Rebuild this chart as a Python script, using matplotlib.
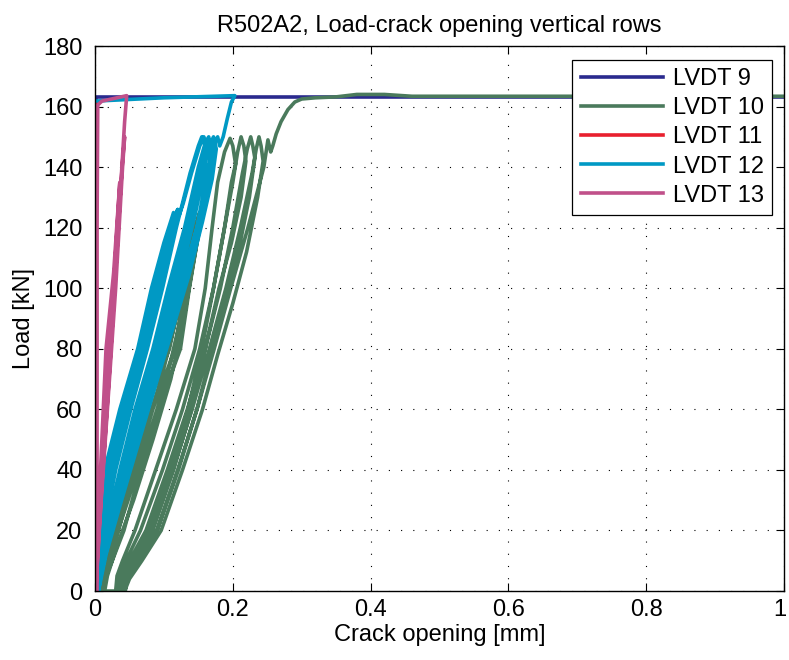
"""
R502A2 load vs crack opening, vertical rows of LVDTs.
"""
import matplotlib
matplotlib.use("Agg")
import matplotlib.pyplot as plt
import matplotlib.transforms as mtransforms

plt.rcParams['font.family'] = ['Liberation Sans', 'DejaVu Sans']

# LVDT 9: stays at zero opening, then flat at peak load
lvdt9_x = [0.0008, 0.0008, 1.000]
lvdt9_y = [0.0, 163.3, 163.3]

# LVDT 10: cycles, each written as loading branch + unloading branch
lvdt10_x = [
    0.000, 0.004, 0.010, 0.020, 0.038, 0.066, 0.100, 0.120, 0.137, 0.152,
    0.146, 0.130, 0.112, 0.088, 0.060, 0.034, 0.016, 0.006, 0.003,
    0.003, 0.008, 0.015, 0.028, 0.048, 0.074, 0.108, 0.126, 0.140, 0.154,
    0.148, 0.134, 0.118, 0.096, 0.068, 0.042, 0.022, 0.010, 0.006,
    0.006, 0.012, 0.020, 0.034, 0.058, 0.084, 0.116, 0.131, 0.144, 0.156,
    0.150, 0.138, 0.124, 0.104, 0.076, 0.048, 0.026, 0.014, 0.010,
    0.010, 0.016, 0.025, 0.042, 0.066, 0.092, 0.124, 0.137, 0.148, 0.157,
    0.152, 0.141, 0.129, 0.110, 0.084, 0.056, 0.032, 0.018, 0.014,
    0.030, 0.032, 0.040, 0.058, 0.088, 0.118, 0.145, 0.160, 0.170, 0.178, 0.188, 0.196, 0.200, 0.204,
    0.198, 0.188, 0.172, 0.155, 0.135, 0.108, 0.078, 0.052, 0.038, 0.033,
    0.034, 0.036, 0.045, 0.066, 0.098, 0.127, 0.152, 0.172, 0.188, 0.200, 0.207, 0.212, 0.216, 0.219,
    0.212, 0.198, 0.180, 0.160, 0.140, 0.114, 0.084, 0.058, 0.042, 0.037,
    0.038, 0.040, 0.050, 0.074, 0.105, 0.134, 0.160, 0.182, 0.200, 0.214, 0.221, 0.226, 0.229, 0.232,
    0.224, 0.208, 0.190, 0.168, 0.148, 0.120, 0.090, 0.063, 0.046, 0.040,
    0.041, 0.043, 0.054, 0.082, 0.113, 0.141, 0.166, 0.190, 0.211, 0.228, 0.234, 0.238, 0.241, 0.244,
    0.236, 0.220, 0.200, 0.178, 0.156, 0.127, 0.096, 0.068, 0.050, 0.043,
    0.044, 0.046, 0.058, 0.090, 0.121, 0.148, 0.173, 0.197, 0.222, 0.245, 0.251, 0.255, 0.258,
    0.263, 0.270, 0.280, 0.290, 0.300, 0.320, 0.350, 0.380, 0.420, 0.460, 1.000,
]
lvdt10_y = [
    0, 5, 10, 20, 40, 60, 80, 100, 115, 125,
    120, 105, 90, 70, 50, 30, 15, 5, 0,
    0, 5, 10, 20, 40, 60, 80, 100, 115, 126,
    120, 105, 90, 70, 50, 30, 15, 5, 0,
    0, 5, 10, 20, 40, 60, 80, 100, 115, 126,
    120, 106, 90, 70, 50, 30, 15, 5, 0,
    0, 5, 10, 20, 40, 60, 80, 100, 115, 125,
    120, 106, 90, 70, 50, 30, 15, 5, 0,
    0, 5, 10, 20, 40, 60, 80, 100, 120, 135, 145, 149.5, 147, 141,
    135, 120, 100, 80, 60, 40, 20, 10, 4, 0,
    0, 5, 10, 20, 40, 60, 80, 100, 120, 135, 145, 150, 147, 142,
    130, 115, 100, 80, 60, 40, 20, 10, 4, 0,
    0, 5, 10, 20, 40, 60, 80, 100, 120, 138, 146, 150, 147, 143,
    130, 112, 96, 78, 60, 40, 20, 10, 4, 0,
    0, 5, 10, 20, 40, 60, 80, 100, 120, 138, 146, 150, 147, 142,
    130, 112, 95, 78, 60, 40, 20, 10, 4, 0,
    0, 4, 10, 20, 40, 60, 80, 100, 120, 140, 149, 145, 147,
    151, 155, 159, 161.5, 162.5, 162.9, 163.2, 164.0, 164.0, 163.4, 163.4,
]

# LVDT 11: hidden behind LVDT 13 near zero
lvdt11_x = [0.001, 0.002, 0.002, 0.003]
lvdt11_y = [0.0, 80.0, 158.0, 161.0]

# LVDT 12
lvdt12_x = [
    0.000, 0.002, 0.006, 0.014, 0.036, 0.062, 0.082, 0.100, 0.114,
    0.110, 0.096, 0.078, 0.056, 0.034, 0.016, 0.006, 0.001,
    0.001, 0.003, 0.008, 0.019, 0.041, 0.067, 0.087, 0.104, 0.117,
    0.113, 0.099, 0.081, 0.059, 0.037, 0.019, 0.008, 0.001,
    0.001, 0.004, 0.010, 0.024, 0.046, 0.072, 0.092, 0.108, 0.120,
    0.116, 0.102, 0.084, 0.062, 0.040, 0.022, 0.010, 0.002,
    0.002, 0.005, 0.011, 0.027, 0.049, 0.073, 0.095, 0.112, 0.120, 0.122, 0.128, 0.140, 0.152, 0.158, 0.162,
    0.158, 0.145, 0.126, 0.104, 0.080, 0.054, 0.030, 0.012, 0.003,
    0.002, 0.006, 0.013, 0.030, 0.052, 0.076, 0.098, 0.118, 0.138, 0.150, 0.155, 0.160,
    0.156, 0.142, 0.122, 0.100, 0.076, 0.050, 0.026, 0.010, 0.003,
    0.003, 0.008, 0.017, 0.036, 0.058, 0.084, 0.106, 0.130, 0.150, 0.160, 0.165, 0.169,
    0.164, 0.150, 0.130, 0.106, 0.082, 0.056, 0.032, 0.014, 0.004,
    0.003, 0.009, 0.019, 0.039, 0.061, 0.087, 0.110, 0.134, 0.153, 0.163, 0.168, 0.173,
    0.167, 0.153, 0.133, 0.109, 0.085, 0.059, 0.034, 0.015, 0.004,
    0.004, 0.010, 0.020, 0.042, 0.064, 0.090, 0.114, 0.138, 0.156, 0.166, 0.172, 0.176,
    0.170, 0.156, 0.136, 0.112, 0.088, 0.062, 0.036, 0.016, 0.005,
    0.005, 0.012, 0.024, 0.050, 0.072, 0.098, 0.122, 0.148, 0.164, 0.170, 0.174, 0.178, 0.181,
    0.186, 0.192, 0.198, 0.203, 0.100, 0.000,
]
lvdt12_y = [
    0, 10, 20, 40, 60, 80, 100, 115, 125,
    118, 105, 90, 72, 55, 35, 18, 0,
    0, 10, 20, 40, 60, 80, 100, 115, 124,
    119, 106, 90, 72, 55, 35, 18, 0,
    0, 10, 20, 40, 60, 80, 100, 115, 126,
    120, 106, 90, 72, 55, 35, 18, 0,
    0, 10, 20, 40, 60, 80, 100, 116, 126, 124, 128, 138, 147, 150, 147,
    138, 124, 106, 88, 70, 50, 30, 14, 0,
    0, 10, 20, 40, 60, 80, 100, 120, 138, 147, 150, 147,
    138, 124, 106, 88, 70, 50, 30, 14, 0,
    0, 10, 20, 40, 60, 80, 100, 120, 140, 148, 150, 146,
    136, 122, 104, 86, 68, 48, 28, 12, 0,
    0, 10, 20, 40, 60, 80, 100, 120, 139, 147, 149, 146,
    136, 122, 104, 86, 68, 48, 28, 12, 0,
    0, 10, 20, 40, 60, 80, 100, 120, 138, 147, 150, 146,
    136, 122, 104, 86, 68, 48, 28, 12, 0,
    0, 10, 20, 40, 60, 80, 100, 120, 140, 146, 148, 150, 147,
    150, 156, 161.5, 163.6, 162.9, 161.8,
]

# LVDT 13
lvdt13_x = [
    0.000, 0.004, 0.010, 0.016, 0.021, 0.027, 0.032, 0.036,
    0.033, 0.027, 0.016, 0.011, 0.005, 0.001,
    0.001, 0.006, 0.012, 0.018, 0.024, 0.030, 0.035, 0.040, 0.043,
    0.040, 0.034, 0.027, 0.019, 0.011, 0.004, 0.001,
    0.001, 0.005, 0.010, 0.016, 0.022, 0.028, 0.034, 0.039, 0.043, 0.046,
    0.010, 0.004, 0.003, 0.003, 0.003,
]
lvdt13_y = [
    0, 20, 40, 60, 80, 100, 120, 135,
    125, 105, 80, 55, 25, 0,
    0, 20, 40, 60, 80, 100, 120, 140, 150,
    142, 122, 98, 72, 45, 18, 0,
    0, 15, 35, 55, 76, 98, 120, 140, 155, 163.6,
    161.8, 160.5, 120, 60, 0,
]

series_labels = ['LVDT 9', 'LVDT 10', 'LVDT 11', 'LVDT 12', 'LVDT 13']
series_colors = ['#2a2a8e', '#4a7a5c', '#e8202e', '#0099c4', '#c0508a']

x_ticks = [0, 0.2, 0.4, 0.6, 0.8, 1]
x_tick_labels = ['0', '0.2', '0.4', '0.6', '0.8', '1']
y_ticks = [0, 20, 40, 60, 80, 100, 120, 140, 160, 180]

fig = plt.figure(figsize=(7.89, 6.6), dpi=100)
ax = fig.add_axes([0.1204, 0.1045, 0.8733, 0.8258])

data = [(lvdt9_x, lvdt9_y), (lvdt10_x, lvdt10_y), (lvdt11_x, lvdt11_y),
        (lvdt12_x, lvdt12_y), (lvdt13_x, lvdt13_y)]
for (xs, ys), lab, col in zip(data, series_labels, series_colors):
    ax.plot(xs, ys, color=col, linewidth=2.6, label=lab, solid_joinstyle='round')

ax.set_xlim(0, 1)
ax.set_ylim(0, 180)
ax.set_xticks(x_ticks)
ax.set_xticklabels(x_tick_labels)
ax.set_yticks(y_ticks)
ax.tick_params(direction='in', length=6, width=0.8, top=True, right=True,
               labelsize=17)
ax.tick_params(axis='x', pad=6)
ax.tick_params(axis='y', pad=9)
for sp in ax.spines.values():
    sp.set_linewidth(1.0)
ax.grid(True, color='black', linestyle=(0, (1, 10)), linewidth=0.8)

# nudge the last x tick label so it stays inside the figure
last = ax.get_xticklabels()[-1]
last.set_transform(last.get_transform() +
                   mtransforms.ScaledTranslation(-4 / 100, 0, fig.dpi_scale_trans))

ax.set_title('R502A2, Load-crack opening vertical rows', fontsize=17, pad=10)
ax.set_xlabel('Crack opening [mm]', fontsize=17, labelpad=2)
ax.set_ylabel('Load [kN]', fontsize=17, labelpad=6)

leg = ax.legend(loc='upper right', bbox_to_anchor=(0.9826, 0.9743),
                borderaxespad=0, fontsize=17, fancybox=False, framealpha=1,
                edgecolor='black', handlelength=3.5, handletextpad=0.4,
                labelspacing=0.3, borderpad=0.35)
leg.get_frame().set_linewidth(0.9)

fig.savefig('out.png', dpi=100)
